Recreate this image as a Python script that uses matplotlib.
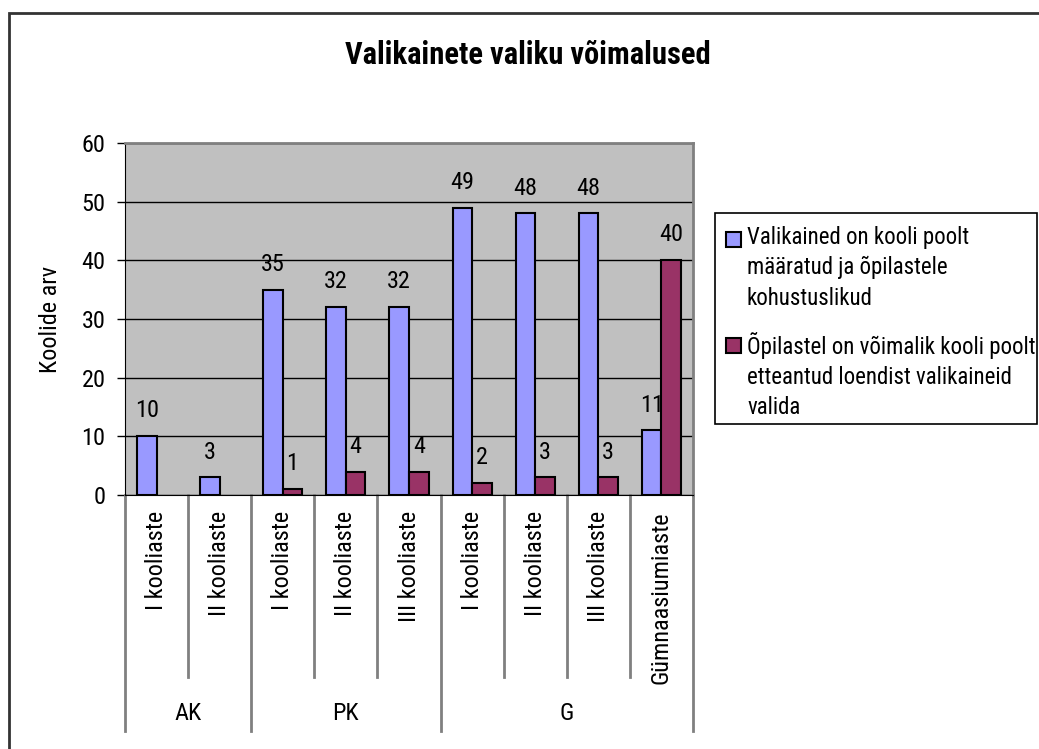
"""Valikainete valiku võimalused - grouped bars with two-level category axis
"""
import matplotlib
matplotlib.use("Agg")
import matplotlib.pyplot as plt
from matplotlib.transforms import blended_transform_factory
from matplotlib.patches import Rectangle
import numpy as np
import logging
logging.getLogger("matplotlib.font_manager").setLevel(logging.ERROR)

################################################################################
categories = ["I kooliaste", "II kooliaste",
              "I kooliaste", "II kooliaste", "III kooliaste",
              "I kooliaste", "II kooliaste", "III kooliaste", "Gümnaasiumiaste"]
groups = ["AK", "PK", "G"]
group_sizes = [2, 3, 4]
mandatory = [10, 3, 35, 32, 32, 49, 48, 48, 11]
optional = [None, None, 1, 4, 4, 2, 3, 3, 40]
series_names = ["Valikained on kooli poolt\nmääratud ja õpilastele\nkohustuslikud",
                "Õpilastel on võimalik kooli poolt\netteantud loendist valikaineid\nvalida"]
################################################################################

plt.rcParams["font.family"] = ["Liberation Sans Narrow", "Arial Narrow", "Roboto Condensed",
                               "Liberation Sans", "DejaVu Sans"]

blue = "#9999FF"
maroon = "#993366"
fs = 17.5

fig = plt.figure(figsize=(10.39, 7.49), dpi=100)
W, H = 1039, 749
ax = fig.add_axes([125 / W, 1 - 495 / H, (693 - 125) / W, (495 - 143) / H])
ax.set_facecolor("#C0C0C0")

# outer chart frame
fig.patches.append(Rectangle((9 / W, -0.05), 1.2, 1 - 13 / H + 0.05, transform=fig.transFigure,
                             fill=False, edgecolor="#333333", linewidth=2))

x = np.arange(len(categories))
w = 0.31
opt_vals = [v if v is not None else 0 for v in optional]
b1 = ax.bar(x - w / 2, mandatory, w, color=blue, edgecolor="black", linewidth=1.5, zorder=3)
b2 = ax.bar(x + w / 2, opt_vals, w, color=maroon, edgecolor="black", linewidth=1.5, zorder=3)
for i, v in enumerate(optional):
  if v is None:
    b2[i].set_visible(False)

for xi, v in zip(x, mandatory):
  ax.annotate(str(v), (xi - w / 2, v), xytext=(0, 10), textcoords="offset points",
              ha="center", va="bottom", fontsize=fs, zorder=2)
for xi, v in zip(x, optional):
  if v is not None:
    ax.annotate(str(v), (xi + w / 2, v), xytext=(0, 10), textcoords="offset points",
                ha="center", va="bottom", fontsize=fs, zorder=2)

ax.set_xlim(-0.5, len(categories) - 0.5)
ax.set_ylim(0, 60)
ax.set_yticks(range(0, 61, 10))
ax.tick_params(axis="y", labelsize=fs, length=6, width=1, direction="out", pad=8)
ax.yaxis.grid(True, color="black", linewidth=1)
ax.set_axisbelow(True)
ax.set_xticks([])
ax.set_ylabel("Koolide arv", fontsize=fs, labelpad=14)

for side in ["top", "right"]:
  ax.spines[side].set_color("#808080")
  ax.spines[side].set_linewidth(2)
ax.spines["left"].set_color("black")
ax.spines["bottom"].set_color("black")

# two-level category axis
trans = blended_transform_factory(ax.transData, ax.transAxes)
inner_bottom = -(677 - 495) / 352
outer_bottom = -(731 - 495) / 352
bounds = np.cumsum([0] + group_sizes) - 0.5
for b in np.arange(len(categories) + 1) - 0.5:
  low = outer_bottom if b in bounds else inner_bottom
  ax.plot([b, b], [0, low], transform=trans, color="#808080", linewidth=2, clip_on=False)
for xi, c in zip(x, categories):
  ax.text(xi, -16 / 352, c, transform=trans, rotation=90, ha="center", va="top", fontsize=fs)
for g, lo, hi in zip(groups, bounds[:-1], bounds[1:]):
  ax.text((lo + hi) / 2, -(713 - 495) / 352, g, transform=trans, ha="center", va="center", fontsize=fs)

fig.text(528 / W, 1 - 55 / H, "Valikainete valiku võimalused", ha="center", va="center",
         fontsize=22, fontweight="bold")

# legend drawn by hand so the swatch sits on the first text line
fig.patches.append(Rectangle((715 / W, 1 - 424 / H), (1037 - 715) / W, (424 - 213) / H,
                             transform=fig.transFigure, fill=False, edgecolor="black", linewidth=1.2))
for k, (name, col) in enumerate(zip(series_names, [blue, maroon])):
  top = 226 + 106 * k
  fig.patches.append(Rectangle((726 / W, 1 - (top + 21) / H), 15 / W, 15 / H,
                               transform=fig.transFigure, facecolor=col, edgecolor="black",
                               linewidth=1.5))
  fig.text(747 / W, 1 - top / H, name, ha="left", va="top", fontsize=16.5, linespacing=1.4)

fig.savefig("out.png", dpi=100)
